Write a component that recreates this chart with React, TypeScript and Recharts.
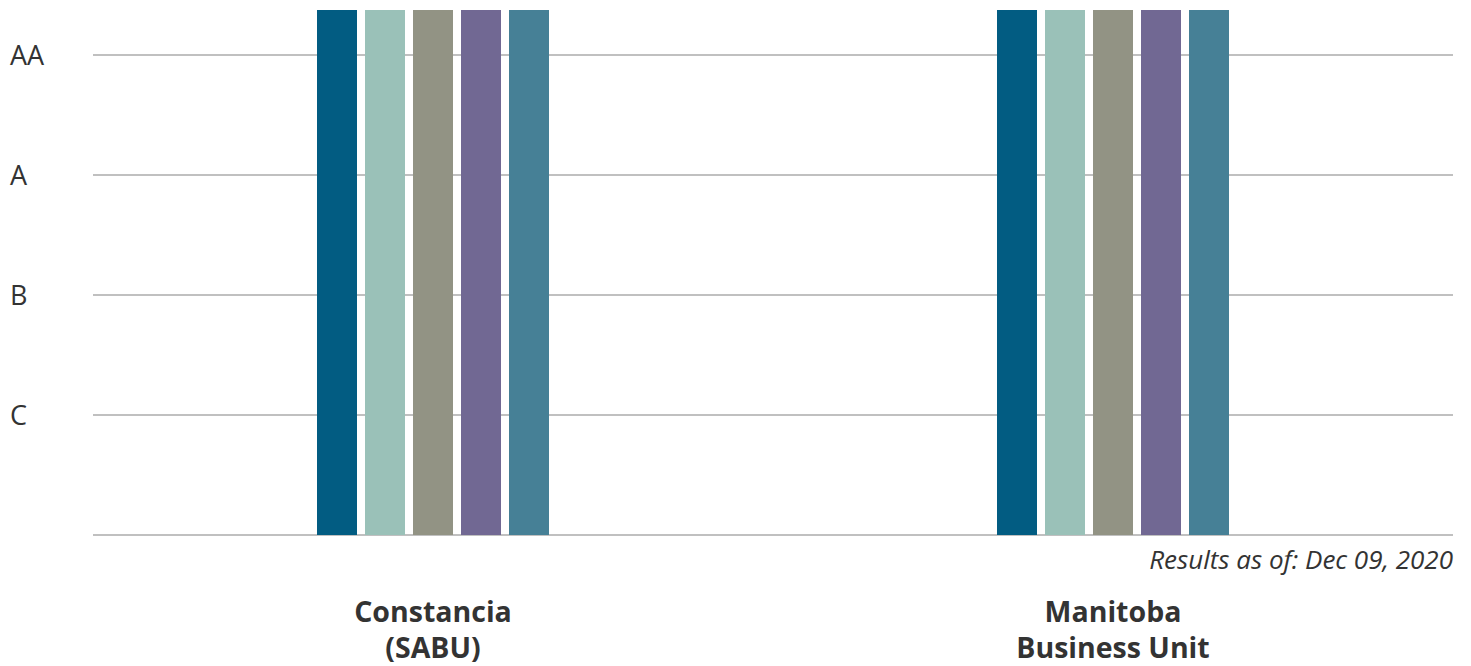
import React from 'react';
import { BarChart, Bar, XAxis, YAxis, CartesianGrid, Label } from 'recharts';

// categories (one entry per business unit), each label split over two lines
const categories = ['Constancia (SABU)', 'Manitoba Business Unit'];
const categoryLines = [
  ['Constancia', '(SABU)'],
  ['Manitoba', 'Business Unit'],
];

// rating scale: 0 = baseline, 1 = C ... 4 = AA
const ratingTicks = [0, 1, 2, 3, 4];
const ratingLabels = ['', 'C', 'B', 'A', 'AA'];
const ratingMax = 4.375;

// five series, every bar reaches the top of the scale
const series1 = [4.375, 4.375];
const series2 = [4.375, 4.375];
const series3 = [4.375, 4.375];
const series4 = [4.375, 4.375];
const series5 = [4.375, 4.375];

const seriesKeys = ['s1', 's2', 's3', 's4', 's5'];
const seriesColors = ['#025c82', '#9ac1b8', '#929384', '#716893', '#468096'];

const data = categories.map((name, i) => ({
  name,
  s1: series1[i],
  s2: series2[i],
  s3: series3[i],
  s4: series4[i],
  s5: series5[i],
}));

const FONT = '"Open Sans", sans-serif';
const TEXT = '#333333';

const YTick = (props: any) => {
  const { y, payload } = props;
  return (
    <text x={10} y={y} dy={10} textAnchor="start" fontFamily={FONT} fontSize={27} fill={TEXT}>
      {ratingLabels[ratingTicks.indexOf(payload.value)]}
    </text>
  );
};

const XTick = (props: any) => {
  const { x, y, payload } = props;
  const lines = categoryLines[categories.indexOf(payload.value)] || [payload.value];
  return (
    <text x={x} y={y} textAnchor="middle" fontFamily={FONT} fontSize={28.5} fontWeight={700} fill={TEXT}>
      {lines.map((line, i) => (
        <tspan key={i} x={x} dy={i === 0 ? 79 : 36}>
          {line}
        </tspan>
      ))}
    </text>
  );
};

const App = () => {
  return (
    <div style={{ position: 'absolute', left: 0, top: 0, background: '#fff' }}>
      <BarChart
        width={1471}
        height={666}
        data={data}
        margin={{ top: 10, right: 18, left: 0, bottom: 10 }}
        barSize={40}
        barGap={8}
      >
        <CartesianGrid
          vertical={false}
          horizontalValues={ratingTicks}
          stroke="#c0c0c0"
          strokeWidth={2}
        />
        <XAxis
          dataKey="name"
          axisLine={false}
          tickLine={false}
          height={121}
          tick={<XTick />}
          interval={0}
        >
          <Label
            value="Results as of: Dec 09, 2020"
            position="insideTopRight"
            offset={0}
            dy={16}
            fontFamily={FONT}
            fontSize={26}
            fontStyle="italic"
            fill={TEXT}
          />
        </XAxis>
        <YAxis
          type="number"
          domain={[0, ratingMax]}
          ticks={ratingTicks}
          width={93}
          axisLine={false}
          tickLine={false}
          tick={<YTick />}
        />
        {seriesKeys.map((key, i) => (
          <Bar key={key} dataKey={key} fill={seriesColors[i]} isAnimationActive={false} />
        ))}
      </BarChart>
    </div>
  );
};

export default App;
